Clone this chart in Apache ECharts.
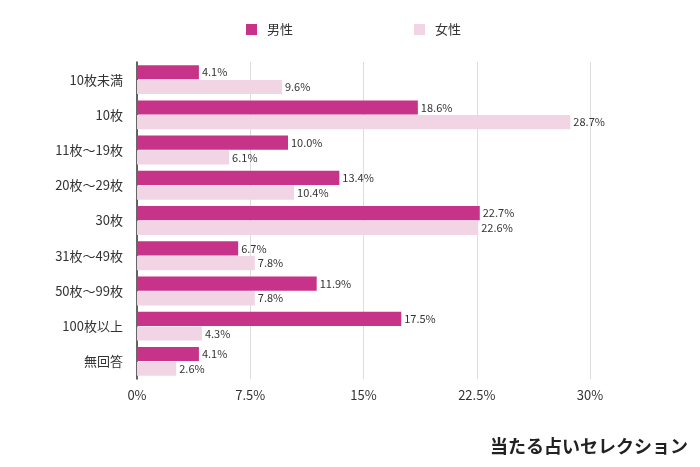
<!DOCTYPE html>
<html><head><meta charset="utf-8">
<script src="https://cdn.jsdelivr.net/npm/echarts@6/dist/echarts.min.js"></script>
<style>html,body{margin:0;padding:0;background:#fff}#c{width:700px;height:467px}</style>
</head><body><div id="c"></div>
<script>
const categories = ['10枚未満','10枚','11枚〜19枚','20枚〜29枚','30枚','31枚〜49枚','50枚〜99枚','100枚以上','無回答'];
const male = [4.1,18.6,10.0,13.4,22.7,6.7,11.9,17.5,4.1];
const female = [9.6,28.7,6.1,10.4,22.6,7.8,7.8,4.3,2.6];
const xTicks = ['0%','7.5%','15%','22.5%','30%'];
const seriesNames = ['男性','女性'];
const credit = '当たる占いセレクション';

const font = '"Noto Sans CJK JP", "Noto Sans", sans-serif';
const chart = echarts.init(document.getElementById('c'));
const lbl = {show:true, position:'right', distance:3, fontSize:11, color:'#333', fontFamily:font,
  formatter: p => p.value.toFixed(1) + '%'};
chart.setOption({
  animation:false,
  textStyle:{fontFamily:font},
  legend:{top:18, left:241, itemWidth:11, itemHeight:11, itemGap:121, icon:'rect',
    textStyle:{fontSize:13, color:'#333', padding:[0,0,0,5]}, data:seriesNames},
  grid:{left:137, right:110, top:62, bottom:88, containLabel:false},
  xAxis:{type:'value', min:0, max:30, interval:7.5,
    axisLabel:{fontSize:13, color:'#333', margin:10, formatter: v => xTicks[Math.round(v/7.5)]},
    splitLine:{lineStyle:{color:'#ddd', width:1}}, axisLine:{show:false}, axisTick:{show:false}},
  yAxis:{type:'category', inverse:true, data:categories,
    axisLine:{lineStyle:{color:'#333', width:1.5}}, axisTick:{show:false},
    axisLabel:{fontSize:13, color:'#333', margin:14}},
  series:[
    {name:seriesNames[0], type:'bar', data:male, barGap:'4%', barCategoryGap:'18%', itemStyle:{color:'#c8338a'}, label:lbl},
    {name:seriesNames[1], type:'bar', data:female, itemStyle:{color:'#f2d5e5'}, label:lbl}
  ],
  graphic:[{type:'text', right:12, top:437, style:{text:credit, fill:'#222', font:'bold 18px '+font}}]
});
</script></body></html>
